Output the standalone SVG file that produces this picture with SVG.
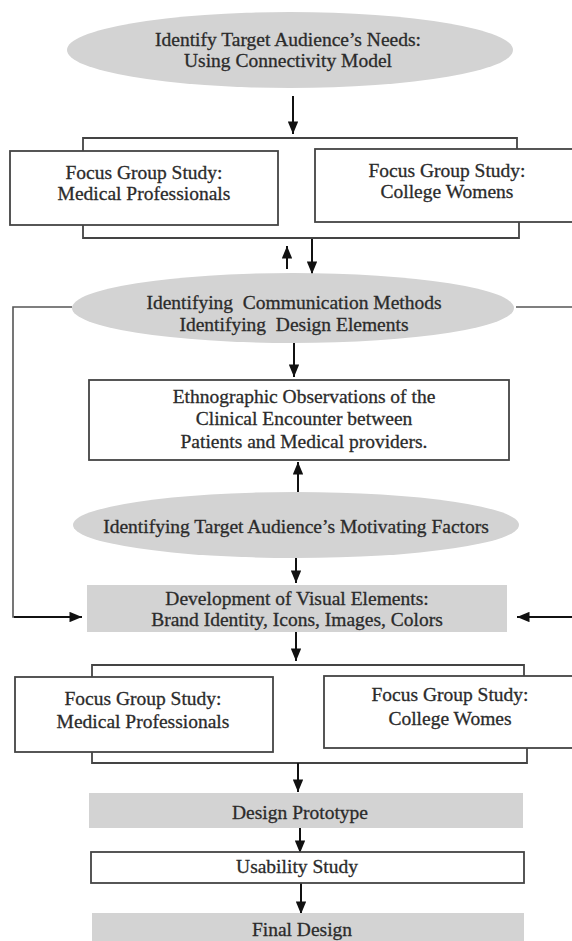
<svg xmlns="http://www.w3.org/2000/svg" width="572" height="941" viewBox="0 0 572 941">
  <style>
    text { font-family: "Liberation Serif", "Times New Roman", serif; font-size: 19.5px; fill: #2b2b2b; stroke: #2b2b2b; stroke-width: 0.3; text-anchor: middle; white-space: pre; }
    .oval { fill: #d3d3d3; stroke: none; }
    .band { fill: #d3d3d3; stroke: none; }
    .box { fill: #ffffff; stroke: #444444; stroke-width: 1.8; }
    .frame { fill: none; stroke: #444444; stroke-width: 1.8; }
    .arrow { fill: none; stroke: #111111; stroke-width: 2; marker-end: url(#head); }
    .loop { fill: none; stroke: #555555; stroke-width: 1.6; }
  </style>
  <defs>
    <marker id="head" viewBox="0 0 12 10" refX="12" refY="5" markerWidth="6.5" markerHeight="5.2" orient="auto" markerUnits="strokeWidth">
      <path d="M0,0 L12,5 L0,10 z" fill="#111111"/>
    </marker>
  </defs>

  <!-- connectors -->
  <g id="connectors">
    <line class="arrow" x1="293" y1="96" x2="293" y2="134"/>
    <polyline class="frame" points="83,151 83,138 517,138 517,149"/>
    <polyline class="frame" points="83,225 83,238 519,238 519,222"/>
    <line class="arrow" x1="287" y1="269" x2="287" y2="246"/>
    <line class="arrow" x1="312" y1="239" x2="312" y2="274"/>
    <line class="arrow" x1="294" y1="343" x2="294" y2="377"/>
    <line class="arrow" x1="298" y1="492" x2="298" y2="462"/>
    <line class="arrow" x1="296" y1="558" x2="296" y2="583"/>
    <polyline class="loop" points="72,307 13,307 13,617 40,617"/>
    <line class="arrow" x1="14" y1="617" x2="82" y2="617"/>
    <line class="loop" x1="516" y1="307" x2="574" y2="307"/>
    <line class="arrow" x1="574" y1="617" x2="517" y2="617"/>
    <line class="arrow" x1="296" y1="632" x2="296" y2="661"/>
    <polyline class="frame" points="92,677 92,665 524,665 524,676"/>
    <polyline class="frame" points="92,752 92,763 527,763 527,748"/>
    <line class="arrow" x1="298" y1="763" x2="298" y2="792"/>
    <line class="arrow" x1="300" y1="828" x2="300" y2="853"/>
    <line class="arrow" x1="301" y1="883" x2="301" y2="914"/>
  </g>

  <g id="needs">
    <ellipse class="oval" cx="290" cy="50" rx="223" ry="38"/>
    <text x="288" y="46">Identify Target Audience’s Needs:</text>
    <text x="288" y="67">Using Connectivity Model</text>
  </g>

  <g id="focus-medical-1">
    <rect class="box" x="10" y="151" width="268" height="74"/>
    <text x="144" y="179">Focus Group Study:</text>
    <text x="144" y="200">Medical Professionals</text>
  </g>

  <g id="focus-college-1">
    <rect class="box" x="315" y="149" width="262" height="73"/>
    <text x="447" y="177">Focus Group Study:</text>
    <text x="447" y="198">College Womens</text>
  </g>

  <g id="communication">
    <ellipse class="oval" cx="293" cy="308" rx="221" ry="35"/>
    <text x="294" y="309">Identifying  Communication Methods</text>
    <text x="294" y="331">Identifying  Design Elements</text>
  </g>

  <g id="ethnography">
    <rect class="box" x="89" y="380" width="420" height="80"/>
    <text x="304" y="403">Ethnographic Observations of the</text>
    <text x="304" y="425">Clinical Encounter between</text>
    <text x="304" y="448">Patients and Medical providers.</text>
  </g>

  <g id="motivation">
    <ellipse class="oval" cx="296" cy="525" rx="223" ry="33"/>
    <text x="296" y="533">Identifying Target Audience’s Motivating Factors</text>
  </g>

  <g id="visual-elements">
    <rect class="band" x="87" y="585" width="420" height="47"/>
    <text x="297" y="605">Development of Visual Elements:</text>
    <text x="297" y="626">Brand Identity, Icons, Images, Colors</text>
  </g>

  <g id="focus-medical-2">
    <rect class="box" x="15" y="677" width="258" height="75"/>
    <text x="143" y="705">Focus Group Study:</text>
    <text x="143" y="728">Medical Professionals</text>
  </g>

  <g id="focus-college-2">
    <rect class="box" x="324" y="676" width="252" height="72"/>
    <text x="450" y="701">Focus Group Study:</text>
    <text x="450" y="725">College Womes</text>
  </g>

  <g id="prototype">
    <rect class="band" x="89" y="793" width="434" height="35"/>
    <text x="300" y="819">Design Prototype</text>
  </g>

  <g id="usability">
    <rect class="box" x="91" y="852" width="433" height="31"/>
    <text x="297" y="873">Usability Study</text>
  </g>

  <g id="final">
    <rect class="band" x="92" y="913" width="432" height="30"/>
    <text x="302" y="936">Final Design</text>
  </g>
</svg>
